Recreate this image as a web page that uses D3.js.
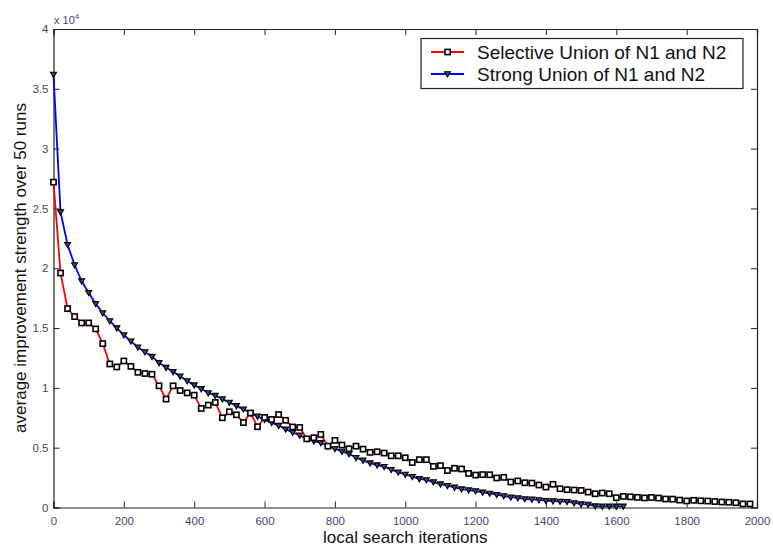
<!DOCTYPE html>
<html>
<head>
<meta charset="utf-8">
<script src="https://cdn.jsdelivr.net/npm/d3@7"></script>
<style>
  body { margin: 0; background: #fff; }
  text { font-family: "Liberation Sans", Arial, sans-serif; }
</style>
</head>
<body>
<div id="chart"></div>
<script>
// so lan lap (lay mau moi 20 lan)
var iterations = [0,20,40,60,80,100,120,140,160,180,200,220,240,260,280,300,320,340,360,380,
  400,420,440,460,480,500,520,540,560,580,600,620,640,660,680,700,720,740,760,780,
  800,820,840,860,880,900,920,940,960,980,1000,1020,1040,1060,1080,1100,1120,1140,1160,1180,
  1200,1220,1240,1260,1280,1300,1320,1340,1360,1380,1400,1420,1440,1460,1480,1500,1520,1540,1560,1580,
  1600,1620,1640,1660,1680,1700,1720,1740,1760,1780,1800,1820,1840,1860,1880,1900,1920,1940,1960,1980];

// Selective Union of N1 and N2 (don vi x10^4)
var selective = [2.72,1.96,1.663,1.596,1.543,1.543,1.493,1.37,1.20,1.175,1.225,1.18,1.13,1.12,1.114,1.017,0.906,1.017,0.978,0.958,
  0.939,0.828,0.856,0.878,0.75,0.80,0.775,0.71,0.79,0.675,0.753,0.736,0.777,0.729,0.673,0.669,0.574,0.583,0.611,0.513,
  0.561,0.522,0.491,0.513,0.488,0.461,0.466,0.455,0.432,0.432,0.416,0.376,0.40,0.40,0.344,0.35,0.309,0.328,0.322,0.285,
  0.271,0.275,0.274,0.247,0.252,0.213,0.222,0.207,0.204,0.188,0.171,0.194,0.157,0.149,0.146,0.143,0.129,0.115,0.121,0.115,
  0.082,0.093,0.089,0.085,0.08,0.084,0.079,0.071,0.07,0.062,0.055,0.06,0.056,0.054,0.05,0.046,0.044,0.04,0.03,0.03];

// Strong Union of N1 and N2 (don vi x10^4), dung o 1620
var strong = [3.62,2.47,2.197,2.027,1.893,1.796,1.704,1.626,1.559,1.50,1.442,1.39,1.34,1.30,1.262,1.209,1.17,1.134,1.098,1.058,
  1.023,0.992,0.958,0.936,0.906,0.878,0.85,0.822,0.79,0.762,0.735,0.71,0.685,0.655,0.628,0.603,0.575,0.555,0.541,0.511,
  0.491,0.469,0.449,0.416,0.394,0.371,0.355,0.341,0.316,0.295,0.276,0.257,0.24,0.23,0.213,0.196,0.182,0.169,0.154,0.146,
  0.138,0.127,0.118,0.107,0.096,0.086,0.08,0.071,0.068,0.063,0.057,0.054,0.051,0.049,0.038,0.029,0.026,0.012,0.01,0.01,
  0.01,0.01];

var xTicks = [0,200,400,600,800,1000,1200,1400,1600,1800,2000];
var yTicks = [0,0.5,1,1.5,2,2.5,3,3.5,4];
var seriesNames = ["Selective Union of N1 and N2", "Strong Union of N1 and N2"];

var width = 773, height = 550;
var mLeft = 53.5, mRight = 757, mTop = 29, mBottom = 507.5;
var labelColor = "#4d4470";

var svg = d3.select("#chart").append("svg")
    .attr("width", width)
    .attr("height", height);

var x = d3.scaleLinear().domain([0, 2000]).range([mLeft, mRight]);
var y = d3.scaleLinear().domain([0, 4]).range([mBottom, mTop]);

// truc va khung
var fmt = function(d) { return d3.format("")(d); };

var gx = svg.append("g").attr("transform", "translate(0," + mBottom + ")")
    .call(d3.axisBottom(x).tickValues(xTicks).tickSize(-6).tickPadding(9).tickFormat(fmt));
var gxTop = svg.append("g").attr("transform", "translate(0," + mTop + ")")
    .call(d3.axisTop(x).tickValues(xTicks).tickSize(-6).tickFormat(""));
var gy = svg.append("g").attr("transform", "translate(" + mLeft + ",0)")
    .call(d3.axisLeft(y).tickValues(yTicks).tickSize(-6).tickPadding(5).tickFormat(fmt));
var gyRight = svg.append("g").attr("transform", "translate(" + mRight + ",0)")
    .call(d3.axisRight(y).tickValues(yTicks).tickSize(-6).tickFormat(""));

[gx, gxTop, gy, gyRight].forEach(function(g) {
    g.select(".domain").attr("stroke", "#222").attr("stroke-width", 1.2);
    g.selectAll(".tick line").attr("stroke", "#222");
    g.selectAll(".tick text")
        .attr("fill", labelColor)
        .style("font-size", "11.5px")
        .style("font-family", "'Liberation Sans', Arial, sans-serif");
});

// he so x10^4
var mult = svg.append("text").attr("x", 54).attr("y", 24)
    .attr("fill", labelColor).style("font-size", "11px");
mult.append("tspan").text("x 10");
mult.append("tspan").attr("dy", -5).style("font-size", "8px").text("4");

// ten truc
svg.append("text")
    .attr("x", (mLeft + mRight) / 2)
    .attr("y", 543)
    .attr("text-anchor", "middle")
    .attr("fill", "#111")
    .style("font-size", "17px")
    .text("local search iterations");

svg.append("text")
    .attr("transform", "translate(26,268) rotate(-90)")
    .attr("text-anchor", "middle")
    .attr("fill", "#111")
    .style("font-size", "17px")
    .text("average improvement strength over 50 runs");

// du lieu
var redData = selective.map(function(v, i) { return { x: iterations[i], y: v }; });
var blueData = strong.map(function(v, i) { return { x: iterations[i], y: v }; });

var line = d3.line()
    .x(function(d) { return x(d.x); })
    .y(function(d) { return y(d.y); });

svg.append("path").datum(blueData)
    .attr("d", line).attr("fill", "none")
    .attr("stroke", "#0000ff").attr("stroke-width", 1.8);

svg.append("path").datum(redData)
    .attr("d", line).attr("fill", "none")
    .attr("stroke", "#ff0000").attr("stroke-width", 1.8);

var triangle = function(cx, cy) {
    return "M" + (cx - 3) + "," + (cy - 2.2) + "L" + (cx + 3) + "," + (cy - 2.2) + "L" + cx + "," + (cy + 3) + "Z";
};

svg.append("g").selectAll("path")
    .data(blueData)
    .enter().append("path")
    .attr("d", function(d) { return triangle(x(d.x), y(d.y)); })
    .attr("fill", "#444")
    .attr("stroke", "#000")
    .attr("stroke-width", 1.1);

svg.append("g").selectAll("rect")
    .data(redData)
    .enter().append("rect")
    .attr("x", function(d) { return x(d.x) - 2.6; })
    .attr("y", function(d) { return y(d.y) - 2.6; })
    .attr("width", 5.2)
    .attr("height", 5.2)
    .attr("fill", "#fff")
    .attr("stroke", "#000")
    .attr("stroke-width", 1.6);

// chu thich
var legend = svg.append("g");
legend.append("rect")
    .attr("x", 421).attr("y", 38.5)
    .attr("width", 322).attr("height", 50)
    .attr("fill", "#fff").attr("stroke", "#222").attr("stroke-width", 1.2);

var rows = [
    { name: seriesNames[0], color: "#ff0000", y: 52 },
    { name: seriesNames[1], color: "#0000ff", y: 74 }
];
rows.forEach(function(r, i) {
    legend.append("line")
        .attr("x1", 431).attr("x2", 464)
        .attr("y1", r.y).attr("y2", r.y)
        .attr("stroke", r.color).attr("stroke-width", 1.8);
    if (i == 0) {
        legend.append("rect")
            .attr("x", 445).attr("y", r.y - 2.6)
            .attr("width", 5.2).attr("height", 5.2)
            .attr("fill", "#fff").attr("stroke", "#000").attr("stroke-width", 1.6);
    } else {
        legend.append("path")
            .attr("d", triangle(447.5, r.y))
            .attr("fill", "#444").attr("stroke", "#000").attr("stroke-width", 1.1);
    }
    legend.append("text")
        .attr("x", 477).attr("y", r.y + 6.6)
        .attr("fill", "#111")
        .style("font-size", "19px")
        .text(r.name);
});
</script>
</body>
</html>
